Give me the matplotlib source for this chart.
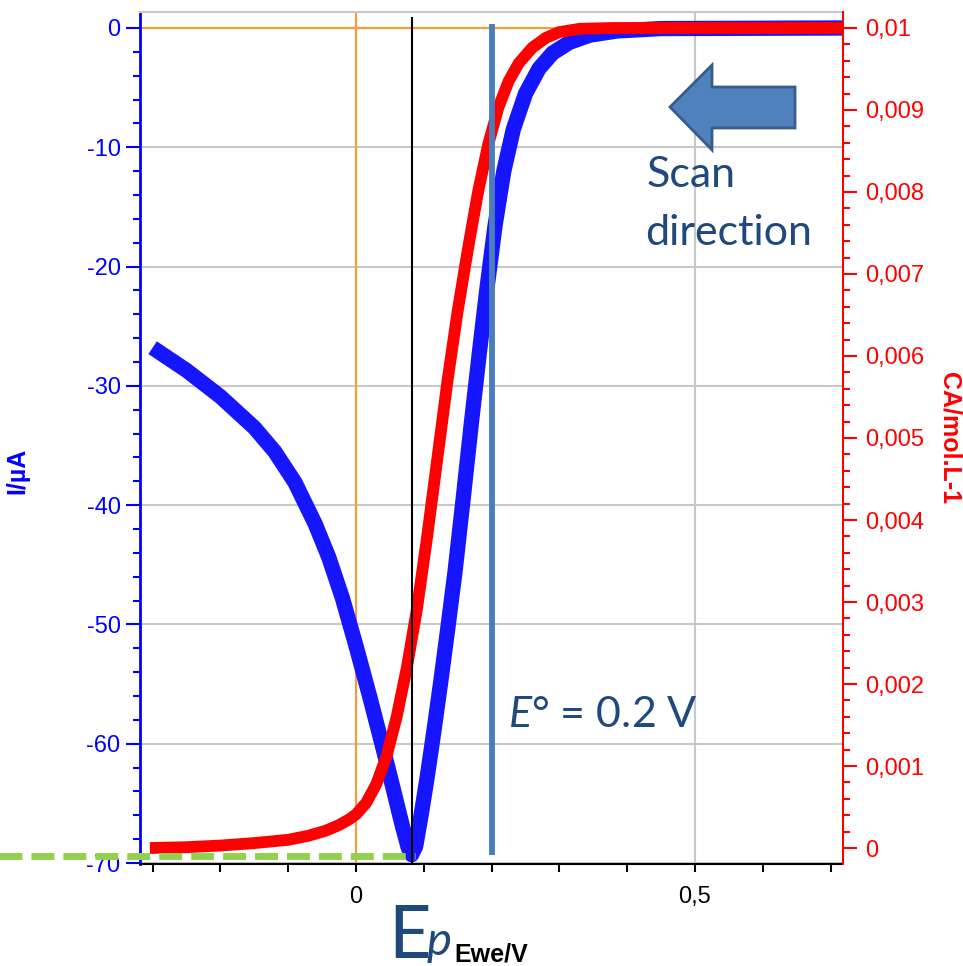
"""
Linear sweep voltammogram (current) with the simulated surface concentration
on a second axis, annotated with E_p, E° and the scan direction.
"""

import matplotlib

matplotlib.use("Agg")
import matplotlib.pyplot as plt
from matplotlib import ticker
from matplotlib.patches import Polygon

plt.rcParams["font.family"] = ["Liberation Sans", "DejaVu Sans"]
plt.rcParams["axes.unicode_minus"] = False
plt.rcParams["mathtext.fontset"] = "custom"
plt.rcParams["mathtext.it"] = "Lato:italic"
plt.rcParams["mathtext.rm"] = "Lato"

# current trace (E in V, I in uA)
E_current = [-0.300, -0.250, -0.200, -0.150, -0.120, -0.090, -0.060, -0.040, -0.020,
             0.000, 0.020, 0.040, 0.055, 0.068, 0.077, 0.082, 0.088, 0.096, 0.105,
             0.115, 0.125, 0.135, 0.146, 0.158, 0.170, 0.182, 0.193, 0.205, 0.218,
             0.232, 0.250, 0.270, 0.290, 0.315, 0.345, 0.385, 0.450, 0.720]
I_current = [-26.8, -28.7, -30.9, -33.5, -35.5, -38.1, -41.6, -44.4, -47.8,
             -51.8, -56.0, -60.4, -63.8, -66.8, -68.7, -69.3, -68.6, -66.0, -62.8,
             -58.9, -54.8, -50.5, -45.6, -39.5, -33.2, -27.2, -21.9, -16.6, -12.0,
             -8.5, -5.5, -3.4, -2.1, -1.2, -0.6, -0.25, -0.05, 0.0]

# concentration trace (E in V, C in mol/L)
E_conc = [-0.304, -0.250, -0.200, -0.150, -0.100, -0.070, -0.045, -0.025, -0.010,
          0.000, 0.015, 0.030, 0.045, 0.060, 0.075, 0.090, 0.105, 0.120, 0.135,
          0.150, 0.165, 0.180, 0.195, 0.210, 0.225, 0.240, 0.260, 0.280, 0.300,
          0.330, 0.380, 0.720]
C_conc = [0.00000, 0.00001, 0.00003, 0.00006, 0.00010, 0.00015, 0.00021, 0.00028,
          0.00035, 0.00041, 0.00055, 0.00078, 0.00112, 0.00160, 0.00220, 0.00292,
          0.00380, 0.00475, 0.00570, 0.00655, 0.00730, 0.00800, 0.00858, 0.00903,
          0.00935, 0.00957, 0.00976, 0.00988, 0.00995, 0.00999, 0.01000, 0.01000]

E_peak = 0.0826
I_peak = -69.4
E_standard = 0.2

W, H = 963, 966
TEXT_BLUE = "#1F497D"


def fig_xy(x_px, y_px):
    return x_px / W, 1 - y_px / H


def comma_fmt(v, pos):
    return f"{round(v, 5):g}".replace(".", ",")


fig = plt.figure(figsize=(W / 100, H / 100), dpi=100)
ax = fig.add_axes([140 / W, 102 / H, 703 / W, 852 / H])
ax2 = ax.twinx()

ax.set_xlim(-0.3186, 0.7183)
ax.set_ylim(-70.08, 1.34)
ax2.set_ylim(-0.000195, 0.010195)

# grid + reference lines
ax.grid(True, which="major", color="#c8c8c8", lw=1.5)
ax.set_axisbelow(True)
ax.axhline(0, color="#ff9933", lw=1.5, zorder=1)
ax.axvline(0, color="#ff9933", lw=1.5, zorder=1)

ax.plot(E_current, I_current, color="#1515ff", lw=11, solid_capstyle="butt",
        solid_joinstyle="round", zorder=3)
ax2.plot(E_conc, C_conc, color="#ff0000", lw=8.5, solid_capstyle="butt",
         solid_joinstyle="round", zorder=3)

# annotation lines on top of the curves
ax2.axvline(E_peak, ymin=0, ymax=0.993, color="black", lw=1.5, zorder=4)
ax2.plot([E_standard, E_standard], [-69.3, 0.3], transform=ax.transData,
         color="#4A7EBB", lw=4.2, solid_capstyle="butt", zorder=5)
ax2.plot([-0.53, E_peak + 0.004], [I_peak, I_peak], transform=ax.transData,
         color="#92D050", lw=5, dashes=(3.3, 1.3), clip_on=False, zorder=6)

# spines
ax.spines["right"].set_visible(False)
ax.spines["left"].set_color("blue")
ax.spines["left"].set_linewidth(2)
ax.spines["bottom"].set_color("black")
ax.spines["bottom"].set_linewidth(1.5)
ax.spines["top"].set_color("#c8c8c8")
ax.spines["top"].set_linewidth(1.5)
for side in ("left", "top", "bottom"):
    ax2.spines[side].set_visible(False)
ax2.spines["right"].set_color("red")
ax2.spines["right"].set_linewidth(1.5)

# ticks
ax.xaxis.set_major_locator(ticker.MultipleLocator(0.5))
ax.xaxis.set_minor_locator(ticker.MultipleLocator(0.1))
ax.xaxis.set_major_formatter(ticker.FuncFormatter(comma_fmt))
ax.yaxis.set_major_locator(ticker.MultipleLocator(10))
ax.yaxis.set_minor_locator(ticker.MultipleLocator(2))
ax2.yaxis.set_major_locator(ticker.MultipleLocator(0.001))
ax2.yaxis.set_minor_locator(ticker.MultipleLocator(0.0002))
ax2.yaxis.set_major_formatter(ticker.FuncFormatter(comma_fmt))

ax.tick_params(axis="y", which="major", direction="out", length=10, width=1.5,
               colors="blue", labelsize=17, pad=4)
ax.tick_params(axis="y", which="minor", direction="out", length=5, width=1.5, colors="blue")
ax.tick_params(axis="x", which="both", direction="out", length=6, width=1.5,
               colors="black", labelsize=17, pad=10)
ax2.tick_params(axis="y", which="major", direction="out", length=10, width=1.5,
                colors="red", labelsize=17, pad=6)
ax2.tick_params(axis="y", which="minor", direction="out", length=5, width=1.5, colors="red")

# axis labels
ax.set_xlabel("Ewe/V", fontsize=18, fontweight="bold", color="black")
ax.xaxis.set_label_coords(0.5, -0.092)
ax.set_ylabel("I/µA", fontsize=18, fontweight="bold", color="blue")
ax.yaxis.set_label_coords(-0.158, 0.462)
ax2.set_ylabel("CA/mol.L-1", fontsize=18, fontweight="bold", color="red", rotation=270,
               va="center")
ax2.yaxis.set_label_coords(1.152, 0.5)

# scan direction arrow
arrow_px = [(670, 107), (712, 65), (712, 87), (795, 87), (795, 128), (712, 128), (712, 150)]
fig.patches.append(Polygon([fig_xy(x, y) for x, y in arrow_px], closed=True,
                           transform=fig.transFigure, facecolor="#4F81BD",
                           edgecolor="#385D8A", lw=2, zorder=10))

fig.text(*fig_xy(647, 187), "Scan", fontsize=31, color=TEXT_BLUE, family="Lato",
         va="baseline", ha="left")
fig.text(*fig_xy(645, 245), "direction", fontsize=31, color=TEXT_BLUE, family="Lato",
         va="baseline", ha="left")
fig.text(*fig_xy(508, 727), r"$\mathit{E}$° = 0.2 V", fontsize=31, color=TEXT_BLUE,
         family="Lato", va="baseline", ha="left")
fig.text(*fig_xy(388, 958), "E", fontsize=53, color=TEXT_BLUE, family="Lato",
         va="baseline", ha="left")
fig.text(*fig_xy(427, 955), "p", fontsize=34, color=TEXT_BLUE, family="Lato",
         style="italic", va="baseline", ha="left")

fig.savefig("out.png", dpi=100)
